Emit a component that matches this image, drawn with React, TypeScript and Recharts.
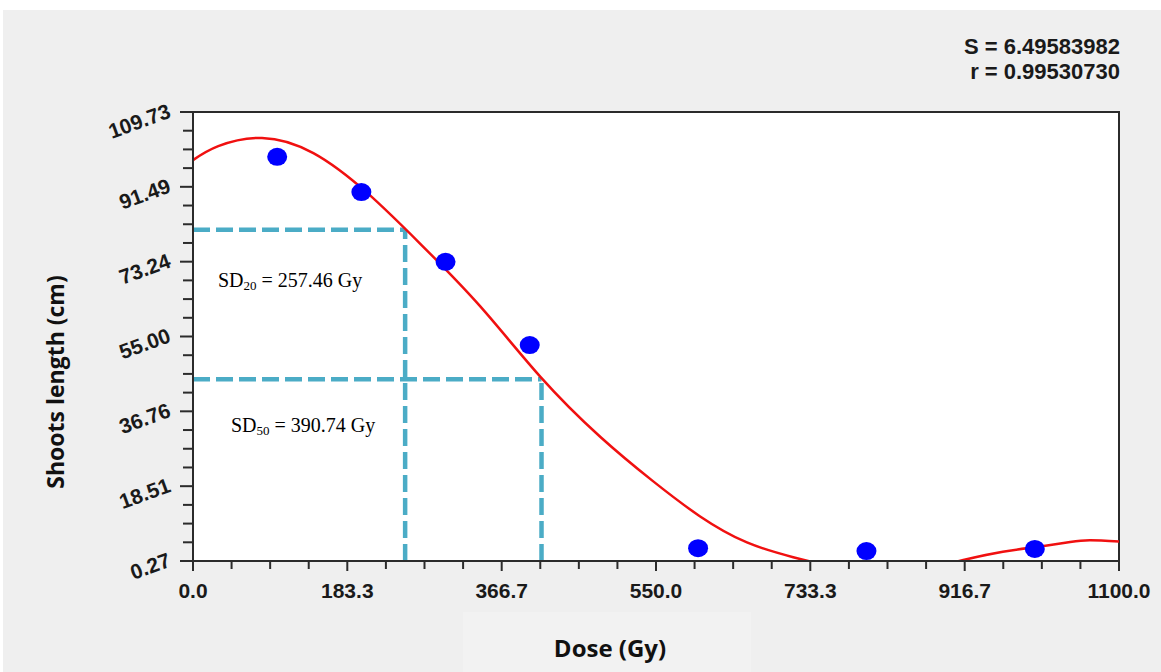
import React from "react";
import {
  ComposedChart,
  XAxis,
  YAxis,
  Line,
  Scatter,
  ReferenceLine,
  ReferenceArea,
} from "recharts";

// measured points
const doses = [100, 200, 300, 400, 600, 800, 1000];
const shootLengths = [98.8, 90.2, 73.2, 52.9, 3.4, 2.7, 3.2];

// fitted curve
const fitDoses = [0, 30, 82, 143, 207, 270, 341, 413, 484, 546, 602, 658, 713, 760, 810, 860, 915, 962, 1002, 1042, 1066, 1100];
const fitLengths = [98.0, 101.4, 103.4, 99.7, 90.0, 77.6, 62.4, 45.1, 30.5, 19.8, 11.2, 4.8, 1.2, -1.2, -3.0, -2.0, 0.5, 2.5, 3.7, 4.9, 5.3, 5.0];

// SD20 / SD50 guide lines (as drawn)
const sdDoses = [252, 414];
const sdLengths = [81.0, 44.6];
const sdNames = ["20", "50"];
const sdValues = ["257.46 Gy", "390.74 Gy"];

const xMajor = [0, 183.3, 366.7, 550, 733.3, 916.7, 1100];
const xMajorLabels = ["0.0", "183.3", "366.7", "550.0", "733.3", "916.7", "1100.0"];
const yMajor = [0.27, 18.51, 36.76, 55.0, 73.24, 91.49, 109.73];
const yMajorLabels = ["0.27", "18.51", "36.76", "55.00", "73.24", "91.49", "109.73"];

const fitStats = ["S = 6.49583982", "r = 0.99530730"];

function withMinor(majors: number[], n = 4) {
  const out: number[] = [];
  for (let i = 0; i < majors.length - 1; i++) {
    for (let k = 0; k < n; k++) out.push(majors[i] + ((majors[i + 1] - majors[i]) * k) / n);
  }
  out.push(majors[majors.length - 1]);
  return out;
}

const xTicks = withMinor(xMajor);
const yTicks = withMinor(yMajor);

const points = doses.map((x, i) => ({ x, y: shootLengths[i] }));
const curve = fitDoses.map((x, i) => ({ x, y: fitLengths[i] }));

const majorIndex = (arr: number[], v: number) => arr.findIndex((m) => Math.abs(m - v) < 0.01);

const AXIS = "#2b2b2b";
const TICK_FONT = "'Liberation Sans', Arial, sans-serif";

function XTick(props: any) {
  const { x, y, payload } = props;
  const idx = majorIndex(xMajor, payload.value);
  return (
    <g>
      <line x1={x} x2={x} y1={y} y2={y + (idx >= 0 ? 10 : 8)} stroke={AXIS} strokeWidth={2} />
      {idx >= 0 && (
        <text x={x} y={y + 37} textAnchor="middle" fontFamily={TICK_FONT} fontWeight="bold" fontSize={21} fill="#1a1a1a">
          {xMajorLabels[idx]}
        </text>
      )}
    </g>
  );
}

function YTick(props: any) {
  const { x, y, payload } = props;
  const idx = majorIndex(yMajor, payload.value);
  const ax = x - 21;
  const ay = y + 5;
  return (
    <g>
      <line x1={x - (idx >= 0 ? 13 : 10)} x2={x} y1={y} y2={y} stroke={AXIS} strokeWidth={2} />
      {idx >= 0 && (
        <text x={ax} y={ay} textAnchor="end" transform={`rotate(-20 ${ax} ${ay})`} fontFamily={TICK_FONT} fontWeight="bold" fontSize={21} fill="#1a1a1a">
          {yMajorLabels[idx]}
        </text>
      )}
    </g>
  );
}

function Dot(props: any) {
  const { cx, cy } = props;
  return <ellipse cx={cx} cy={cy} rx={10} ry={9} fill="#0000ff" />;
}

export default function App() {
  return (
    <div style={{ position: "absolute", left: 0, top: 0, width: 1161, height: 672, background: "#fff" }}>
      <div style={{ position: "absolute", left: 3, top: 10, width: 1158, height: 662, background: "#efefef" }} />
      <div style={{ position: "absolute", left: 463, top: 612, width: 288, height: 60, background: "#f2f2f2" }} />
      <div style={{ position: "absolute", left: 0, top: 0 }}>
        <ComposedChart width={1161} height={672} margin={{ top: 112, right: 42, bottom: 61, left: 93 }}>
          <ReferenceArea x1={0} x2={1100} y1={0.27} y2={109.73} fill="#ffffff" fillOpacity={1} stroke={AXIS} strokeWidth={2} />
          <XAxis
            type="number"
            dataKey="x"
            domain={[0, 1100]}
            ticks={xTicks}
            interval={0}
            allowDataOverflow
            height={50}
            axisLine={{ stroke: AXIS, strokeWidth: 2 }}
            tickLine={false}
            tickSize={0}
            tickMargin={0}
            tick={<XTick />}
          />
          <YAxis
            type="number"
            dataKey="y"
            domain={[0.27, 109.73]}
            ticks={yTicks}
            interval={0}
            allowDataOverflow
            width={100}
            axisLine={{ stroke: AXIS, strokeWidth: 2 }}
            tickLine={false}
            tickSize={0}
            tickMargin={0}
            tick={<YTick />}
          />
          {sdDoses.map((d, i) => (
            <ReferenceLine
              key={"h" + i}
              segment={[{ x: 0, y: sdLengths[i] }, { x: d, y: sdLengths[i] }]}
              stroke="#4BACC6"
              strokeWidth={4.5}
              strokeDasharray="17 6"
            />
          ))}
          {sdDoses.map((d, i) => (
            <ReferenceLine
              key={"v" + i}
              segment={[{ x: d, y: 0.27 }, { x: d, y: sdLengths[i] }]}
              stroke="#4BACC6"
              strokeWidth={4.5}
              strokeDasharray="17 6"
            />
          ))}
          <Line
            data={curve}
            dataKey="y"
            type="natural"
            stroke="#f01010"
            strokeWidth={2.5}
            dot={false}
            activeDot={false}
            isAnimationActive={false}
          />
          <Scatter data={points} dataKey="y" shape={<Dot />} isAnimationActive={false} />
        </ComposedChart>
      </div>
      <svg width={1161} height={672} style={{ position: "absolute", left: 0, top: 0, pointerEvents: "none" }}>
        {fitStats.map((s, i) => (
          <text key={s} x={1120} y={54 + i * 25} textAnchor="end" fontFamily={TICK_FONT} fontWeight="bold" fontSize={22} fill="#1a1a1a">
            {s}
          </text>
        ))}
        <text x={64} y={382} textAnchor="middle" transform="rotate(-90 64 382)" fontFamily="'Open Sans', sans-serif" fontWeight="bold" fontSize={23} fill="#111">
          Shoots length (cm)
        </text>
        <text x={610} y={657} textAnchor="middle" fontFamily="'Open Sans', sans-serif" fontWeight="bold" fontSize={24} fill="#111">
          Dose (Gy)
        </text>
        {[
          { x: 218, y: 287 },
          { x: 231, y: 432 },
        ].map((p, i) => (
          <text key={i} x={p.x} y={p.y} fontFamily="'Liberation Serif', 'Times New Roman', serif" fontSize={20} fill="#000">
            SD
            <tspan fontSize={13} dy={3}>{sdNames[i]}</tspan>
            <tspan dy={-3}>{" = " + sdValues[i]}</tspan>
          </text>
        ))}
      </svg>
    </div>
  );
}
